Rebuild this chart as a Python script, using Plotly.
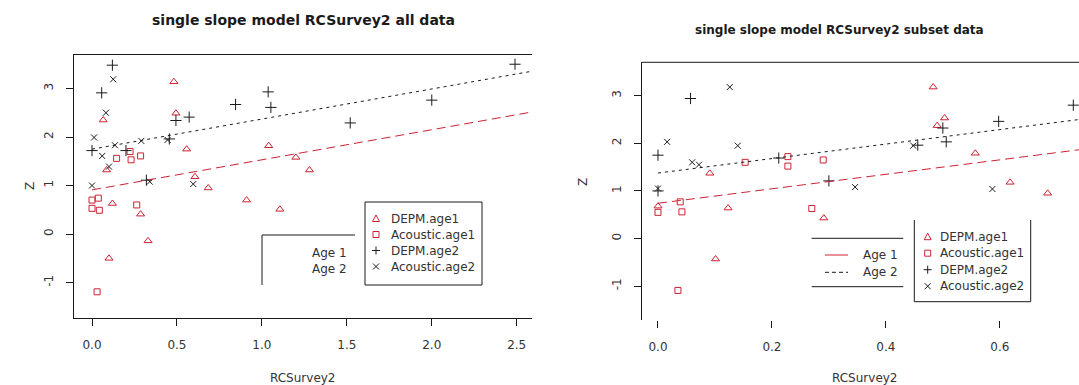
import plotly.graph_objects as go

W, H = 1079, 385
RED = "#cc2233"
INK = "#1a1a1a"
GREY = "#333333"
FONT = "DejaVu Sans"

# ---------------- all data ----------------
all_depm1_x = [0.066, 0.086, 0.12, 0.10, 0.286, 0.33, 0.482, 0.494, 0.557, 0.606, 0.684, 0.91, 1.04, 1.106, 1.20, 1.28]
all_depm1_y = [2.35, 1.32, 0.63, -0.50, 0.41, -0.14, 3.14, 2.49, 1.75, 1.18, 0.95, 0.70, 1.82, 0.51, 1.58, 1.32]
all_ac1_x = [0.145, 0.224, 0.23, 0.286, 0.0, 0.037, 0.0, 0.043, 0.263, 0.03]
all_ac1_y = [1.56, 1.70, 1.53, 1.61, 0.70, 0.74, 0.53, 0.49, 0.60, -1.19]
all_depm2_x = [0.12, 0.057, 0.0, 0.20, 0.455, 0.494, 0.572, 0.32, 0.845, 1.037, 1.053, 1.52, 2.0, 2.49]
all_depm2_y = [3.48, 2.91, 1.72, 1.72, 1.96, 2.34, 2.41, 1.11, 2.67, 2.93, 2.61, 2.29, 2.76, 3.50]
all_ac2_x = [0.125, 0.082, 0.012, 0.135, 0.06, 0.10, 0.29, 0.445, 0.0, 0.34, 0.596]
all_ac2_y = [3.19, 2.50, 1.99, 1.83, 1.61, 1.39, 1.92, 1.94, 1.00, 1.08, 1.03]
all_intercepts = [0.91, 1.75]   # age 1, age 2
all_slope = 0.62

# ---------------- subset data ----------------
sub_depm1_x = [0.0, 0.091, 0.123, 0.101, 0.291, 0.483, 0.49, 0.503, 0.557, 0.618, 0.684]
sub_depm1_y = [0.68, 1.37, 0.64, -0.43, 0.43, 3.18, 2.37, 2.53, 1.79, 1.18, 0.95]
sub_ac1_x = [0.0, 0.039, 0.042, 0.035, 0.153, 0.228, 0.228, 0.27, 0.29]
sub_ac1_y = [0.55, 0.77, 0.56, -1.09, 1.60, 1.72, 1.52, 0.63, 1.65]
sub_depm2_x = [0.0, 0.0, 0.057, 0.212, 0.30, 0.456, 0.50, 0.506, 0.598, 0.729]
sub_depm2_y = [1.00, 1.75, 2.94, 1.69, 1.21, 1.96, 2.32, 2.03, 2.46, 2.80]
sub_ac2_x = [0.0, 0.016, 0.06, 0.072, 0.126, 0.14, 0.346, 0.448, 0.587]
sub_ac2_y = [1.05, 2.03, 1.60, 1.55, 3.18, 1.95, 1.08, 1.95, 1.04]
sub_intercepts = [0.74, 1.375]
sub_slope = 1.52

series_names = ["DEPM.age1", "Acoustic.age1", "DEPM.age2", "Acoustic.age2"]
line_names = ["Age 1", "Age 2"]

y_ticks = [-1, 0, 1, 2, 3]
y_ticktext = ["-1", "0", "1", "2", "3"]
all_xticks = [0, 0.5, 1.0, 1.5, 2.0, 2.5]
sub_xticks = [0, 0.2, 0.4, 0.6]

all_xrange = [-0.106, 2.59]
all_yrange = [-1.73, 3.69]
sub_xrange = [-0.0286, 0.739]
sub_yrange = [-1.70, 3.70]

marker_styles = [
    dict(symbol="triangle-up-open", size=7, color=RED, line=dict(width=1, color=RED)),
    dict(symbol="square-open", size=6, color=RED, line=dict(width=1, color=RED)),
    dict(symbol="cross-thin-open", size=8, color=INK, line=dict(width=1, color=INK)),
    dict(symbol="x-thin-open", size=6, color=INK, line=dict(width=1, color=INK)),
]
line_styles = [dict(color=RED, width=1, dash="9px,5px"), dict(color=INK, width=1, dash="3px,4px")]

fig = go.Figure()


def add_panel(xs, ys, intercepts, slope, xmax, xa, ya):
    for (x, y), m, n in zip(zip(xs, ys), marker_styles, series_names):
        fig.add_trace(go.Scatter(x=x, y=y, mode="markers", marker=m, name=n,
                                 xaxis=xa, yaxis=ya, hoverinfo="x+y+name"))
    for b, ls, n in zip(intercepts, line_styles, line_names):
        lx = [0.0, xmax]
        fig.add_trace(go.Scatter(x=lx, y=[b + slope * v for v in lx], mode="lines",
                                 line=ls, name=n, xaxis=xa, yaxis=ya))


add_panel([all_depm1_x, all_ac1_x, all_depm2_x, all_ac2_x],
          [all_depm1_y, all_ac1_y, all_depm2_y, all_ac2_y],
          all_intercepts, all_slope, all_xrange[1], "x", "y")
add_panel([sub_depm1_x, sub_ac1_x, sub_depm2_x, sub_ac2_x],
          [sub_depm1_y, sub_ac1_y, sub_depm2_y, sub_ac2_y],
          sub_intercepts, sub_slope, sub_xrange[1], "x2", "y2")


def P(px, py):
    return px / W, 1 - py / H


def dom(a, b, total):
    return [a / total, b / total]


tickfont = dict(family=FONT, size=12, color=GREY)
axis_common = dict(showgrid=False, zeroline=False, ticks="outside", ticklen=7,
                   tickcolor=INK, tickwidth=1, tickfont=tickfont, linecolor=INK, linewidth=1)

fig.update_layout(
    width=W, height=H, margin=dict(l=0, r=0, t=0, b=0), autosize=False,
    paper_bgcolor="white", plot_bgcolor="white", showlegend=False,
    xaxis=dict(domain=dom(74, 532, W), range=all_xrange, anchor="y",
               tickvals=all_xticks, tickformat=".1f",
               showline=True, mirror=True, ticklabelstandoff=9, **axis_common),
    yaxis=dict(domain=[1 - 318 / H, 1 - 55 / H], range=all_yrange, anchor="x",
               tickvals=y_ticks, ticktext=y_ticktext, tickangle=-90,
               showline=True, ticklabelstandoff=8, **axis_common),
    xaxis2=dict(domain=dom(641.7, W, W), range=sub_xrange, anchor="y2",
                tickvals=sub_xticks, tickformat=".1f",
                showline=False, ticklabelstandoff=9, **axis_common),
    yaxis2=dict(domain=[1 - 319.5 / H, 1 - 62.3 / H], range=sub_yrange, anchor="x2",
                tickvals=y_ticks, ticktext=y_ticktext, tickangle=-90,
                showline=True, ticklabelstandoff=8, **axis_common),
)

shapes = []
annotations = []


def seg(x0, y0, x1, y1, color=INK, width=1, dash=None):
    a, b = P(x0, y0)
    c, d = P(x1, y1)
    ln = dict(color=color, width=width)
    if dash:
        ln["dash"] = dash
    shapes.append(dict(type="line", xref="paper", yref="paper", x0=a, y0=b, x1=c, y1=d, line=ln))


def rect(x0, y0, x1, y1, line=True):
    a, b = P(x0, y0)
    c, d = P(x1, y1)
    shapes.append(dict(type="rect", xref="paper", yref="paper", x0=a, y0=b, x1=c, y1=d,
                       fillcolor="white",
                       line=dict(color=INK if line else "rgba(0,0,0,0)", width=1)))


def text(s, px, py, size=12, color=GREY, anchor="left", bold=False, angle=0):
    a, b = P(px, py)
    annotations.append(dict(text=f"<b>{s}</b>" if bold else s, x=a, y=b, xref="paper", yref="paper",
                            xanchor=anchor, yanchor="middle", showarrow=False, textangle=angle,
                            font=dict(family=FONT, size=size, color=color)))


def glyph(kind, cx, cy):
    if kind == 0:
        x0, y0 = P(cx - 3.5, cy + 3)
        x1, y1 = P(cx + 3.5, cy + 3)
        x2, y2 = P(cx, cy - 3.5)
        shapes.append(dict(type="path", xref="paper", yref="paper",
                           path=f"M{x0},{y0} L{x1},{y1} L{x2},{y2} Z", line=dict(color=RED, width=1)))
    elif kind == 1:
        a, b = P(cx - 3, cy - 3)
        c, d = P(cx + 3, cy + 3)
        shapes.append(dict(type="rect", xref="paper", yref="paper", x0=a, y0=b, x1=c, y1=d,
                           line=dict(color=RED, width=1)))
    elif kind == 2:
        seg(cx - 4, cy, cx + 4, cy)
        seg(cx, cy - 4, cx, cy + 4)
    else:
        seg(cx - 3, cy - 3, cx + 3, cy + 3)
        seg(cx - 3, cy + 3, cx + 3, cy - 3)


# top border of the subset panel
shapes.append(dict(type="line", xref="x2 domain", yref="y2 domain", x0=0, x1=1, y0=1, y1=1,
                   line=dict(color=INK, width=1)))

# line legend, all data
seg(262, 235, 355, 235)
seg(262, 235, 262, 285)
text(line_names[0], 349, 252.5, anchor="right")
text(line_names[1], 349, 268.5, anchor="right")

# symbol legend, all data
rect(365, 202, 482, 285)
for i, n in enumerate(series_names):
    y = 218.5 + 16 * i
    glyph(i, 376, y)
    text(n, 389, y)

# line legend, subset
seg(811.7, 238.3, 903.3, 238.3)
seg(811.7, 286.7, 903.3, 286.7)
seg(825, 255, 848, 255, color=RED)
seg(825, 272.3, 848, 272.3, dash="4px,3px")
text(line_names[0], 861, 255)
text(line_names[1], 861, 272)

# symbol legend, subset (top edge left open)
rect(914.3, 220, 1030.7, 301.7, line=False)
seg(914.3, 220, 914.3, 301.7)
seg(1030.7, 220, 1030.7, 301.7)
seg(914.3, 301.7, 1030.7, 301.7)
for i, n in enumerate(series_names):
    y = 236.7 + 16.5 * i
    glyph(i, 927.7, y)
    text(n, 938, y)

# titles and axis titles
text("single slope model RCSurvey2 all data", 303, 20, size=14, color=INK, anchor="center", bold=True)
text("single slope model RCSurvey2 subset data", 839, 30, size=12, color=INK, anchor="center", bold=True)
text("RCSurvey2", 303, 378, anchor="center")
text("RCSurvey2", 865, 378, anchor="center")
text("Z", 30, 186, anchor="center", angle=-90)
text("Z", 583, 182, anchor="center", angle=-90)

fig.update_layout(shapes=shapes, annotations=annotations)
fig.write_html("out.html")
